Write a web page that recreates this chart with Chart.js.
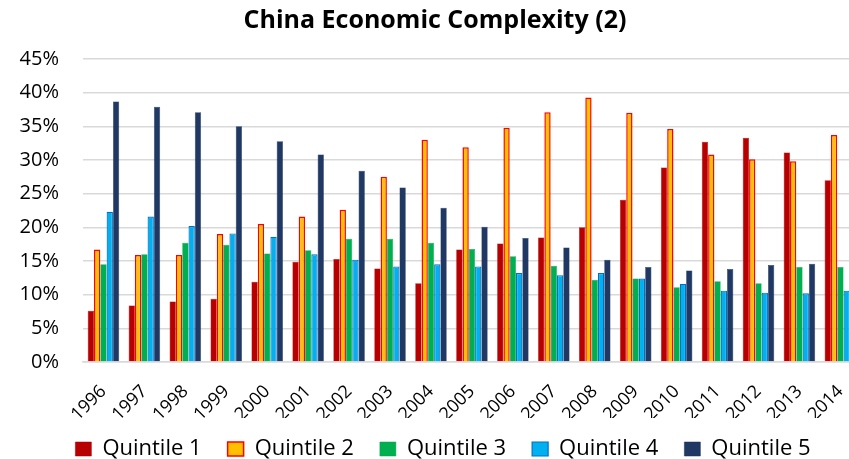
<!DOCTYPE html>
<html>
<head>
<meta charset="utf-8">
<script src="https://cdn.jsdelivr.net/npm/chart.js@4/dist/chart.umd.min.js"></script>
<style>
  html, body { margin: 0; padding: 0; background: #fff; overflow: hidden; }
  #wrap { width: 849px; height: 459px; overflow: hidden; }
  #box { width: 875px; height: 459px; }
</style>
</head>
<body>
<div id="wrap"><div id="box"><canvas id="chart"></canvas></div></div>
<script>
// years on the x axis
const years = ['1996','1997','1998','1999','2000','2001','2002','2003','2004','2005',
               '2006','2007','2008','2009','2010','2011','2012','2013','2014'];

// share of exports per quintile, in %
const quintile1 = [7.6, 8.4, 9.0, 9.4, 11.9, 14.9, 15.3, 13.9, 11.7, 16.7, 17.6, 18.5, 20.0, 24.1, 28.9, 32.7, 33.3, 31.1, 27.0];
const quintile2 = [16.7, 15.9, 15.9, 19.0, 20.5, 21.6, 22.6, 27.5, 33.0, 31.9, 34.8, 37.1, 39.3, 37.0, 34.6, 30.8, 30.1, 29.8, 33.7];
const quintile3 = [14.5, 16.0, 17.7, 17.4, 16.1, 16.6, 18.3, 18.3, 17.7, 16.8, 15.7, 14.3, 12.2, 12.4, 11.1, 12.0, 11.7, 14.1, 14.1];
const quintile4 = [22.3, 21.6, 20.2, 19.1, 18.6, 16.0, 15.2, 14.2, 14.5, 14.2, 13.2, 12.9, 13.2, 12.4, 11.6, 10.6, 10.3, 10.2, 10.6];
const quintile5 = [38.7, 37.9, 37.1, 35.0, 32.8, 30.8, 28.4, 25.9, 22.9, 20.1, 18.4, 17.0, 15.2, 14.1, 13.6, 13.8, 14.4, 14.6, 14.5];

const yTicks = [0, 5, 10, 15, 20, 25, 30, 35, 40, 45];

const FONT = '"Open Sans", sans-serif';

// nudge title and legend a bit, the source chart was centred on a wider frame
const shiftBlocks = {
  id: 'shiftBlocks',
  afterLayout(chart) {
    if (chart.titleBlock) { chart.titleBlock.left += 4; chart.titleBlock.right += 4; }
    if (chart.legend) {
      chart.legend.left += 12; chart.legend.right += 12;
      chart.legend.top -= 6; chart.legend.bottom -= 6;
    }
  }
};

const ctx = document.getElementById('chart').getContext('2d');
new Chart(ctx, {
  type: 'bar',
  data: {
    labels: years,
    datasets: [
      { label: 'Quintile 1', data: quintile1, backgroundColor: '#B80000', borderColor: '#A00000', borderWidth: 0.5 },
      { label: 'Quintile 2', data: quintile2, backgroundColor: '#FFC000', borderColor: '#FF0000', borderWidth: 1.5 },
      { label: 'Quintile 3', data: quintile3, backgroundColor: '#00B050', borderColor: '#00A048', borderWidth: 0.5 },
      { label: 'Quintile 4', data: quintile4, backgroundColor: '#00B0F0', borderColor: '#0070C0', borderWidth: 1.2 },
      { label: 'Quintile 5', data: quintile5, backgroundColor: '#1F3864', borderColor: '#1A2F55', borderWidth: 0.5 }
    ]
  },
  plugins: [shiftBlocks],
  options: {
    responsive: true,
    maintainAspectRatio: false,
    animation: false,
    datasets: { bar: { categoryPercentage: 0.77, barPercentage: 1.0 } },
    // negative bottom padding pushes the legend row down near the edge
    layout: { padding: { left: 0, right: 13, top: 6, bottom: -17 } },
    plugins: {
      title: {
        display: true,
        text: 'China Economic Complexity (2)',
        color: '#000',
        font: { family: FONT, size: 25, weight: 'bold' },
        padding: { top: 0, bottom: 23 }
      },
      legend: {
        position: 'bottom',
        labels: {
          color: '#000',
          font: { family: FONT, size: 22 },
          boxWidth: 16,
          boxHeight: 14,
          padding: 26
        }
      },
      tooltip: { enabled: false }
    },
    scales: {
      x: {
        grid: { display: false, drawTicks: false },
        border: { color: '#D9D9D9', width: 1.5 },
        afterFit: s => { s.height = 56; },
        ticks: {
          color: '#000',
          font: { family: FONT, size: 18 },
          minRotation: 45,
          maxRotation: 45,
          padding: 19,
          autoSkip: false
        }
      },
      y: {
        min: 0,
        max: 45,
        afterBuildTicks: s => { s.ticks = yTicks.map(v => ({ value: v })); },
        afterFit: s => { s.width = 83; },
        grid: { color: '#D9D9D9', lineWidth: 1.5, drawTicks: false },
        border: { display: false },
        ticks: {
          color: '#000',
          font: { family: FONT, size: 20 },
          padding: 24,
          callback: v => v + '%'
        }
      }
    }
  }
});
</script>
</body>
</html>
